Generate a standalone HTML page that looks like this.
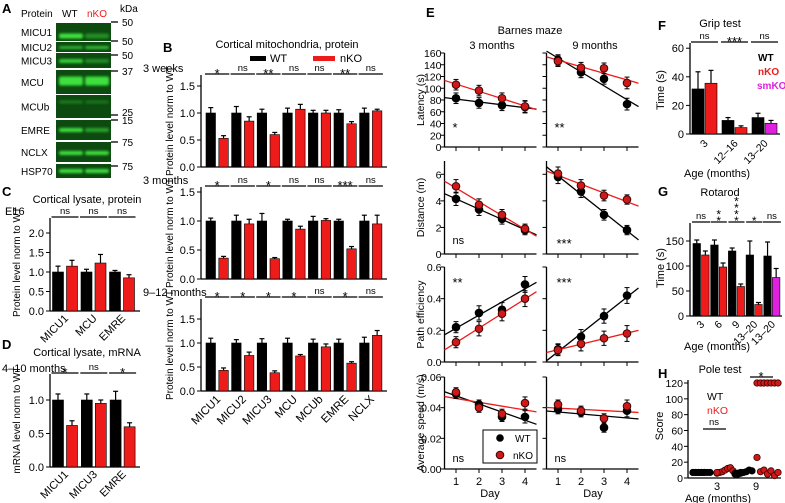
<!DOCTYPE html>
<html><head><meta charset="utf-8">
<style>
body{margin:0;background:#fff}
svg{display:block;font-family:"Liberation Sans",sans-serif}
</style></head>
<body>
<svg id="fig" width="785" height="503" viewBox="0 0 785 503">
<defs><filter id="bl" x="-20%" y="-50%" width="140%" height="200%"><feGaussianBlur stdDeviation="1.2"/></filter></defs>
</svg>
<script>
const RED='#ee1b1b', MAG='#e020e0';
// ---------- Panel B data ----------
const B_cats=['MICU1','MICU2','MICU3','MCU','MCUb','EMRE','NCLX'];
const B1_wt=[1,1,1,1,1,1,1];
const B1_ko=[0.53,0.85,0.6,1.07,1.0,0.8,1.04];
const B1_wtErr=[0.1,0.12,0.07,0.09,0.05,0.06,0.09];
const B1_koErr=[0.05,0.08,0.04,0.09,0.05,0.04,0.03];
const B1_stats=['*','ns','**','ns','ns','**','ns'];
const B2_wt=[1,1,1,1,1,1,1];
const B2_ko=[0.36,0.95,0.35,0.86,1.01,0.52,0.95];
const B2_wtErr=[0.05,0.1,0.13,0.03,0.08,0.03,0.1];
const B2_koErr=[0.03,0.08,0.02,0.05,0.03,0.04,0.15];
const B2_stats=['*','ns','*','ns','ns','***','ns'];
const B3_wt=[1,1,1,1,1,1,1];
const B3_ko=[0.43,0.74,0.38,0.73,0.92,0.58,1.16];
const B3_wtErr=[0.1,0.07,0.09,0.1,0.08,0.08,0.12];
const B3_koErr=[0.05,0.07,0.04,0.03,0.06,0.03,0.1];
const B3_stats=['*','*','*','*','ns','*','ns'];
const B_ticks=[0,0.5,1.0,1.5];
const B_tickLabels=['0.0','0.5','1.0','1.5'];
// ---------- Panel C / D ----------
const C_cats=['MICU1','MCU','EMRE'];
const C_wt=[1,1,1];
const C_ko=[1.15,1.23,0.85];
const C_wtErr=[0.15,0.07,0.04];
const C_koErr=[0.15,0.22,0.08];
const C_stats=['ns','ns','ns'];
const C_ticks=[0,0.5,1,1.5,2];
const C_tickLabels=['0.0','0.5','1.0','1.5','2.0'];
const D_cats=['MICU1','MICU3','EMRE'];
const D_wt=[1,1,1];
const D_ko=[0.62,0.95,0.6];
const D_wtErr=[0.09,0.09,0.13];
const D_koErr=[0.07,0.05,0.06];
const D_stats=['*','ns','*'];
const D_ticks=[0,0.5,1];
const D_tickLabels=['0.0','0.5','1.0'];
// ---------- Panel E ----------
const E_days=[1,2,3,4];
const E_lat3_wt=[83,75,71,68], E_lat3_ko=[106,96,83,69];
const E_lat9_wt=[148,127,116,73], E_lat9_ko=[146,135,134,109];
const E_lat_err=[9,9,9,10];
const E_dist3_wt=[4.15,3.35,2.65,1.8], E_dist3_ko=[5.1,3.7,2.95,1.9];
const E_dist9_wt=[5.8,4.7,2.95,1.8], E_dist9_ko=[6.05,5.15,4.4,4.1];
const E_dist_err=[0.5,0.45,0.4,0.35];
const E_path3_wt=[0.22,0.31,0.33,0.49], E_path3_ko=[0.125,0.21,0.305,0.40];
const E_path9_wt=[0.08,0.16,0.29,0.42], E_path9_ko=[0.075,0.115,0.15,0.18];
const E_path_err=[0.035,0.045,0.045,0.05];
const E_spd3_wt=[0.049,0.042,0.034,0.034], E_spd3_ko=[0.050,0.040,0.036,0.043];
const E_spd9_wt=[0.039,0.037,0.027,0.038], E_spd9_ko=[0.042,0.038,0.033,0.041];
const E_spd_err=[0.003,0.003,0.003,0.004];
// ---------- Panel F / G / H ----------
const F_cats=['3','12–16','13–20'];
const F_wt=[31.5,9.5,11.5], F_wtErr=[12,2,3];
const F_ko=[35.5,4.5,7.5], F_koErr=[9,1.2,2];
const F_stats=['ns','***','ns'];
const F_ticks=[0,20,40,60];
const G_cats=['3','6','9','13–20','13–20'];
const G_wt=[145,142,130,122,120], G_wtErr=[7,10,6,28,28];
const G_ko=[122,98,59,23,77], G_koErr=[8,8,5,4,18];
const G_stats=['ns','**','****','*','ns'];
const G_ticks=[0,50,100,150];
const H_ticks=[0,20,40,60,80,100,120];
const H_wt3=[7,7,7,7,7,7,7,7,7,7,7,7];
const H_ko3=[6,7,8,10,12,13,9,7];
const H_wt9=[5,6,6,7,8,10,9,6,5,7];
const H_ko9=[120,120,120,120,120,120,120,26,8,10,5,9,3,7];

const svg=document.getElementById('fig');
const NS='http://www.w3.org/2000/svg';
function mk(tag,attrs,parent){const e=document.createElementNS(NS,tag);for(const k in attrs)e.setAttribute(k,attrs[k]);(parent||svg).appendChild(e);return e;}
function txt(x,y,s,size,name,opt){opt=opt||{};const a={x:x,y:y,'font-size':size,'text-anchor':opt.anchor||'start',fill:opt.fill||'#000'};if(opt.bold)a['font-weight']='bold';if(opt.rot!==undefined)a.transform='rotate('+opt.rot+' '+x+' '+y+')';const e=mk('text',a,opt.parent);e.textContent=s;


return e;}
function ln(x1,y1,x2,y2,name,parent,col,w){const e=mk('line',{x1:x1,y1:y1,x2:x2,y2:y2,stroke:col||'#000','stroke-width':w||1},parent);


return e;}
function grp(name){const g=mk('g',{});


return g;}
function stat(s,cx,y,w,g){ln(cx-w/2,y,cx+w/2,y,'significance-line',g,'#000',1.2);
if(s.indexOf('*')===0){txt(cx,y+4,s,13,'significance-stars',{anchor:'middle',parent:g});}else{txt(cx,y-3,s,9.5,'significance-ns',{anchor:'middle',parent:g});}}

function barPanel(p){
  const g=grp(p.name);
  const y=v=>p.base-v*p.k;
  ln(p.ax,p.top,p.ax,p.base+0.5,'y-axis',g,'#000',1.3);
  ln(p.ax,p.base,p.axEnd,p.base,'x-axis',g,'#000',1.3);
  p.ticks.forEach((t,i)=>{ln(p.ax-4,y(t),p.ax,y(t),'y-tick',g);txt(p.ax-6,y(t)+4,p.tickLabels[i],p.fs||11,'y-tick-label',{anchor:'end',parent:g});});
  p.cats.forEach((c,i)=>{
    p.series.forEach((s,j)=>{
      const x=p.first+i*p.pitch+j*p.off, v=s.v[i], top=y(v);
      const col=Array.isArray(s.c)?s.c[i]:s.c;
      const r=mk('rect',{x:x,y:top,width:p.bw,height:p.base-top,fill:col,stroke:'#000','stroke-width':0.6},g);
      
      
      const cx=x+p.bw/2, et=y(v+s.e[i]);
      ln(cx,top,cx,et,'error-bar',g,'#000',1.2);ln(cx-2.5,et,cx+2.5,et,'error-cap',g,'#000',1.2);
    });
    if(p.stats){const cx=p.first+i*p.pitch+(p.off+p.bw)/2;
      if(p.stackStars && p.stats[i].indexOf('*')===0){ln(cx-(p.off+p.bw)/2,p.statY,cx+(p.off+p.bw)/2,p.statY,'significance-line',g,'#000',1.2);
        for(let k=0;k<p.stats[i].length;k++)txt(cx,p.statY+3-k*6.5,'*',12,'significance-star',{anchor:'middle',parent:g});}
      else stat(p.stats[i],cx,p.statY,p.off+p.bw+2,g);}
    if(p.catY){const cx=p.first+i*p.pitch+(p.off+p.bw)/2+4;txt(cx,p.catY,c,p.catFs||11,'x-tick-label',{anchor:'end',rot:-45,parent:g});}
  });
  return g;
}

// ---------- Panel A ----------
(function(){
  const g=grp('panel-a-western-blot');
  txt(2,13,'A',13,'panel-label-a',{bold:true,parent:g});
  txt(21,17,'Protein',10,'header-protein',{parent:g});
  txt(62,17,'WT',10,'header-wt',{parent:g});
  txt(87,17,'nKO',10,'header-nko',{parent:g,fill:RED});
  txt(120,12,'kDa',10,'header-kda',{parent:g});
  const strips=[['MICU1',23,41,36,5,1,0.45],['MICU2',42,52,47.5,3,0.7,0.8],['MICU3',53,68,61,4,0.9,0.45],['MCU',70,94,81,9,1,1],['MCUb',95,118,102,3,0.35,0.3],['EMRE',120,140,130,4,1,0.6],['NCLX',142,162,153,4,1,1],['HSP70',164,178,171,4,1,1]];
  strips.forEach(s=>{
    const r=mk('rect',{x:56,y:s[1],width:55,height:s[2]-s[1],fill:'#0c4a10'},g);
    
    
    [[59,s[5]],[85,s[6]]].forEach(b=>{const e=mk('rect',{x:b[0],y:s[3]-s[4]/2,width:24,height:s[4],rx:2,fill:'#3ee03e',opacity:b[1],filter:'url(#bl)'},g);
      
      });
    txt(21,(s[1]+s[2])/2+4,s[0],10,'blot-row-label',{parent:g});
  });
  [[22,'50'],[41,'50'],[55,'50'],[71,'37'],[115,'25'],[120,'15'],[142,'75'],[166,'75']].forEach(k=>{ln(111,k[0],118,k[0],'kda-tick',g,'#000',1.3);txt(122,k[0]+(k[1]==='25'?1:4),k[1],10,'kda-label',{parent:g});});
})();

// ---------- Panel B ----------
txt(163,52,'B',13,'panel-label-b',{bold:true});
txt(287,48,'Cortical mitochondria, protein',11,'panel-b-title',{anchor:'middle'});
(function(){const g=grp('panel-b-legend');
  let r=mk('rect',{x:250,y:56,width:16,height:5,fill:'#000'},g);
  txt(270,62,'WT',11,'legend-wt-label',{parent:g});
  r=mk('rect',{x:313,y:56,width:22,height:5,fill:RED},g);
  txt(340,62,'nKO',11,'legend-nko-label',{parent:g});})();
const Bcommon={ax:201,axEnd:387,first:206,pitch:25.6,bw:9.5,off:12.8,cats:B_cats,ticks:B_ticks,tickLabels:B_tickLabels};
barPanel(Object.assign({},Bcommon,{name:'panel-b-3-weeks',base:167,k:54,top:75,statY:74,stats:B1_stats,series:[{n:'wt',v:B1_wt,e:B1_wtErr,c:'#000'},{n:'nko',v:B1_ko,e:B1_koErr,c:RED}]}));
barPanel(Object.assign({},Bcommon,{name:'panel-b-3-months',base:279,k:58,top:187,statY:186,stats:B2_stats,series:[{n:'wt',v:B2_wt,e:B2_wtErr,c:'#000'},{n:'nko',v:B2_ko,e:B2_koErr,c:RED}]}));
barPanel(Object.assign({},Bcommon,{name:'panel-b-9-12-months',base:391,k:48,top:299,statY:297,stats:B3_stats,catY:400,catFs:11.5,series:[{n:'wt',v:B3_wt,e:B3_wtErr,c:'#000'},{n:'nko',v:B3_ko,e:B3_koErr,c:RED}]}));
txt(143,72,'3 weeks',11,'label-3-weeks');
txt(143,184,'3 months',11,'label-3-months');
txt(143,296,'9–12 months',11,'label-9-12-months');
txt(173,121,'Protein level norm to WT',10,'y-axis-title',{anchor:'middle',rot:-90});
txt(173,233,'Protein level norm to WT',10,'y-axis-title',{anchor:'middle',rot:-90});
txt(173,345,'Protein level norm to WT',10,'y-axis-title',{anchor:'middle',rot:-90});

// ---------- Panel C / D ----------
txt(2,196,'C',13,'panel-label-c',{bold:true});
txt(87,203,'Cortical lysate, protein',11,'panel-c-title',{anchor:'middle'});
txt(5,215,'E16',11,'label-e16');
barPanel({name:'panel-c',ax:50,axEnd:140,base:311,k:39,top:218,ticks:C_ticks,tickLabels:C_tickLabels,first:52.5,pitch:28.5,bw:11,off:14,cats:C_cats,stats:C_stats,statY:217,catY:319,series:[{n:'wt',v:C_wt,e:C_wtErr,c:'#000'},{n:'nko',v:C_ko,e:C_koErr,c:RED}]});
txt(20,262,'Protein level norm to WT',10,'y-axis-title',{anchor:'middle',rot:-90});
txt(2,349,'D',13,'panel-label-d',{bold:true});
txt(87,356,'Cortical lysate, mRNA',11,'panel-d-title',{anchor:'middle'});
txt(2,372,'4–10 months',11,'label-4-10-months');
barPanel({name:'panel-d',ax:50,axEnd:140,base:467,k:67,top:374,ticks:D_ticks,tickLabels:D_tickLabels,first:52.5,pitch:28.8,bw:11,off:14,cats:D_cats,stats:D_stats,statY:373,catY:475,series:[{n:'wt',v:D_wt,e:D_wtErr,c:'#000'},{n:'nko',v:D_ko,e:D_koErr,c:RED}]});
txt(20,420,'mRNA level norm to WT',10,'y-axis-title',{anchor:'middle',rot:-90});

// ---------- Panel E ----------
txt(426,17,'E',13,'panel-label-e',{bold:true});
txt(530,34,'Barnes maze',11,'panel-e-title',{anchor:'middle'});
txt(492,49,'3 months',11,'label-3-months-e',{anchor:'middle'});
txt(595,49,'9 months',11,'label-9-months-e',{anchor:'middle'});
function fit(ys){const n=E_days.length,mx=E_days.reduce((a,b)=>a+b)/n,my=ys.reduce((a,b)=>a+b)/n;let sxy=0,sxx=0;E_days.forEach((d,i)=>{sxy+=(d-mx)*(ys[i]-my);sxx+=(d-mx)*(d-mx);});const b=sxy/sxx;return d=>my+b*(d-mx);}
function linePanel(p){
  const g=grp(p.name);
  const xd=d=>p.x0+(d-0.5)*23, y=v=>p.base-(v/p.max)*(p.base-p.top);
  ln(p.x0,p.top,p.x0,p.base,'y-axis',g,'#000',1.3);
  ln(p.x0,p.base,p.x0+92,p.base,'x-axis',g,'#000',1.3);
  p.ticks.forEach((t,i)=>{ln(p.x0-4,y(t),p.x0,y(t),'y-tick',g);if(p.labels)txt(p.x0-3,y(t)+4,p.tickLabels[i],10.5,'y-tick-label',{anchor:'end',parent:g});});
  E_days.forEach(d=>{ln(xd(d),p.base,xd(d),p.base+4,'x-tick',g);if(p.dayLabels)txt(xd(d),p.base+16,String(d),11,'x-tick-label',{anchor:'middle',parent:g});});
  [[p.wt,'#000','wt'],[p.ko,RED,'nko']].forEach(s=>{
    const f=fit(s[0]);
    ln(xd(0.5),y(f(0.5)),xd(4.5),y(f(4.5)),'fit-line-'+s[2],g,s[1],1.3);
  });
  [[p.wt,'#000','#000','wt'],[p.ko,'#d01818','#3a0606','nko']].forEach(s=>{
    s[0].forEach((v,i)=>{const cx=xd(E_days[i]);ln(cx,y(v-p.err[i]),cx,y(v+p.err[i]),'error-bar',g,'#000',1.1);
      ln(cx-2.5,y(v-p.err[i]),cx+2.5,y(v-p.err[i]),'error-cap',g);ln(cx-2.5,y(v+p.err[i]),cx+2.5,y(v+p.err[i]),'error-cap',g);
      const c=mk('circle',{cx:cx,cy:y(v),r:3.8,fill:s[1],stroke:s[2],'stroke-width':1},g);
      
      });
  });
  if(p.star){const st=p.star.indexOf('*')===0;txt(p.x0+(p.star.length>2?10:8),p.starY+(st?4:0),p.star,st?13:11,'significance-label',{parent:g});}
}
const rows=[
 {k:'lat',base:147,top:53,max:160,ticks:[0,20,40,60,80,100,120,140,160],tl:['0','20','40','60','80','100','120','140','160'],d3:[E_lat3_wt,E_lat3_ko],d9:[E_lat9_wt,E_lat9_ko],err:E_lat_err,s:['*','**'],sy:128,t:'Latency (s)'},
 {k:'dist',base:254,top:161,max:7,ticks:[0,2,4,6],tl:['0','2','4','6'],d3:[E_dist3_wt,E_dist3_ko],d9:[E_dist9_wt,E_dist9_ko],err:E_dist_err,s:['ns','***'],sy:244,t:'Distance (m)'},
 {k:'path',base:362,top:267,max:0.6,ticks:[0,0.2,0.4,0.6],tl:['0.0','0.2','0.4','0.6'],d3:[E_path3_wt,E_path3_ko],d9:[E_path9_wt,E_path9_ko],err:E_path_err,s:['**','***'],sy:283,t:'Path efficiency'},
 {k:'spd',base:469,top:377,max:0.06,ticks:[0,0.02,0.04,0.06],tl:['0.00','0.02','0.04','0.06'],d3:[E_spd3_wt,E_spd3_ko],d9:[E_spd9_wt,E_spd9_ko],err:E_spd_err,s:['ns','ns'],sy:462,t:'Average speed (m/s)'}];
rows.forEach((r,ri)=>{
  linePanel({name:'panel-e-'+r.k+'-3-months',x0:444.5,base:r.base,top:r.top,max:r.max,ticks:r.ticks,tickLabels:r.tl,labels:true,wt:r.d3[0],ko:r.d3[1],err:r.err,star:r.s[0],starY:r.sy,dayLabels:ri===3});
  linePanel({name:'panel-e-'+r.k+'-9-months',x0:546.5,base:r.base,top:r.top,max:r.max,ticks:r.ticks,tickLabels:r.tl,labels:false,wt:r.d9[0],ko:r.d9[1],err:r.err,star:r.s[1],starY:r.sy,dayLabels:ri===3});
  txt(424,(r.base+r.top)/2,r.t,10.5,'y-axis-title',{anchor:'middle',rot:-90});
});
txt(490,497,'Day',11,'x-axis-title',{anchor:'middle'});
txt(593,497,'Day',11,'x-axis-title',{anchor:'middle'});
(function(){const g=grp('panel-e-legend');
  const b=mk('rect',{x:483,y:430,width:54,height:33,fill:'#fff',stroke:'#000','stroke-width':1},g);
  let c=mk('circle',{cx:500,cy:438,r:3.8,fill:'#000'},g);
  txt(515,442,'WT',10,'legend-wt-label',{parent:g});
  c=mk('circle',{cx:500,cy:455,r:3.8,fill:'#d01818',stroke:'#3a0606'},g);
  txt(513,459,'nKO',10,'legend-nko-label',{parent:g});})();

// ---------- Panel F ----------
txt(658,30,'F',13,'panel-label-f',{bold:true});
txt(720,27,'Grip test',11,'panel-f-title',{anchor:'middle'});
barPanel({name:'panel-f',ax:690,axEnd:780,base:134,k:1.43,top:43,ticks:F_ticks,tickLabels:F_ticks.map(String),first:692,pitch:30,bw:12,off:13,cats:F_cats,stats:F_stats,statY:42,catY:144,catFs:10.5,series:[{n:'wt',v:F_wt,e:F_wtErr,c:'#000'},{n:'ko',v:F_ko,e:F_koErr,c:[RED,RED,MAG]}]});
txt(758,61,'WT',10,'legend-wt',{bold:true});
txt(758,75,'nKO',10,'legend-nko',{bold:true,fill:RED});
txt(757,89,'smKO',10,'legend-smko',{bold:true,fill:MAG});
txt(717,177,'Age (months)',11,'x-axis-title',{anchor:'middle'});
txt(664,90,'Time (s)',11,'y-axis-title',{anchor:'middle',rot:-90});

// ---------- Panel G ----------
txt(658,196,'G',13,'panel-label-g',{bold:true});
txt(720,196,'Rotarod',11,'panel-g-title',{anchor:'middle'});
barPanel({name:'panel-g',ax:690,axEnd:782,base:316,k:0.5,top:223,ticks:G_ticks,tickLabels:G_ticks.map(String),first:693,pitch:17.7,bw:7.5,off:8.6,cats:G_cats,stats:G_stats,statY:222,stackStars:true,catY:325,catFs:10.5,series:[{n:'wt',v:G_wt,e:G_wtErr,c:'#000'},{n:'ko',v:G_ko,e:G_koErr,c:[RED,RED,RED,RED,MAG]}]});
txt(717,350,'Age (months)',11,'x-axis-title',{anchor:'middle'});
txt(664,268,'Time (s)',11,'y-axis-title',{anchor:'middle',rot:-90});

// ---------- Panel H ----------
(function(){
  const g=grp('panel-h');
  txt(658,378,'H',13,'panel-label-h',{bold:true,parent:g});
  txt(720,373,'Pole test',11,'panel-h-title',{anchor:'middle',parent:g});
  const base=478,k=95/120,ax=688,y=v=>base-v*k;
  ln(ax,380,ax,base,'y-axis',g,'#000',1.3);ln(ax,base,781,base,'x-axis',g,'#000',1.3);
  H_ticks.forEach(t=>{ln(ax-4,y(t),ax,y(t),'y-tick',g);txt(ax-5,y(t)+4,String(t),10.5,'y-tick-label',{anchor:'end',parent:g});});
  [[H_wt3,693,710,'#000','#000','wt-3'],[H_ko3,717,733,'#d01818','#3a0606','nko-3'],[H_wt9,735,752,'#000','#000','wt-9'],[H_ko9,757,778,'#d01818','#3a0606','nko-9']].forEach(s=>{
    s[0].forEach((v,i)=>{const cx=s[1]+(s[2]-s[1])*(i%7)/6;
      const c=mk('circle',{cx:cx,cy:y(v),r:3.2,fill:s[3],stroke:s[4],'stroke-width':0.8},g);
      
      });
  });
  ln(703,429,726,429,'significance-line',g,'#000',1.2);txt(714,425,'ns',9.5,'significance-ns',{anchor:'middle',parent:g});
  ln(750,377,773,377,'significance-line',g,'#000',1.2);txt(761,381,'*',13,'significance-star',{anchor:'middle',parent:g});
  txt(707,400,'WT',10.5,'legend-wt',{parent:g});
  txt(707,414,'nKO',10.5,'legend-nko',{parent:g,fill:RED});
  txt(717,490,'3',11,'x-tick-label',{anchor:'middle',parent:g});
  txt(756,490,'9',11,'x-tick-label',{anchor:'middle',parent:g});
  txt(718,502,'Age (months)',11,'x-axis-title',{anchor:'middle',parent:g});
  txt(663,426,'Score',11,'y-axis-title',{anchor:'middle',rot:-90,parent:g});
})();
</script>
</body></html>
